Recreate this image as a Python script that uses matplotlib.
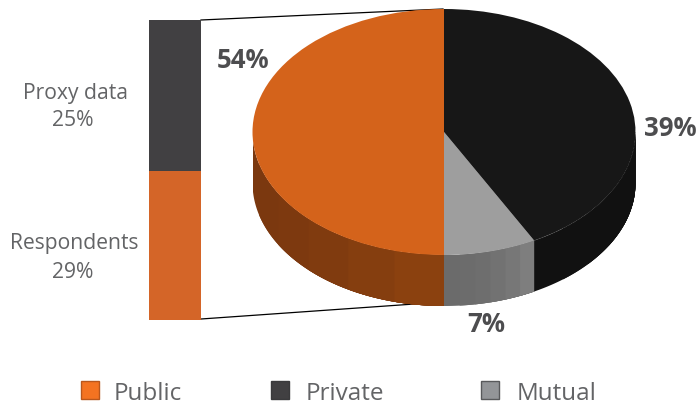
import numpy as np
import matplotlib
matplotlib.use('Agg')
import matplotlib.pyplot as plt
from matplotlib.patches import Rectangle

plt.rcParams['font.family'] = ['Open Sans', 'DejaVu Sans']

W, H = 696, 406

# slices as drawn (the pie is not to scale with its printed labels)
slice_names = ['Public', 'Mutual', 'Private']
slice_shares = [50.0, 7.8, 42.2]
slice_labels = ['54%', '7%', '39%']
top_colors = ['#d4631b', '#9e9e9e', '#171717']
side_left = ['#7a380f', '#6b6b6b', '#111111']
side_right = ['#8b410f', '#7e7e7e', '#111111']

# stacked bar, bottom to top, heights as drawn
bar_names = ['Respondents', 'Proxy data']
bar_heights = [26.8, 27.2]
bar_labels = ['29%', '25%']
bar_colors = ['#d46528', '#414042']

legend_names = ['Public', 'Private', 'Mutual']
legend_colors = ['#f47321', '#414042', '#939598']
legend_edges = ['#b9571c', '#3a3a3c', '#58595b']

TEXT = '#636466'
BOLD = '#4d4d4f'


def px_axes(fig, x0, y0, x1, y1):
    """axes placed by pixel box, y measured from the top of the image"""
    return fig.add_axes([x0 / W, 1 - y1 / H, (x1 - x0) / W, (y1 - y0) / H])


fig = plt.figure(figsize=(W / 100, H / 100), dpi=100)

# overlay in pixel coords for lines, text and legend
bg = px_axes(fig, 0, 0, W, H)
bg.set_xlim(0, W)
bg.set_ylim(H, 0)
bg.axis('off')
bg.plot([201, 443], [21, 10], color='black', lw=0.9, zorder=1)
bg.plot([201, 443], [320, 303], color='black', lw=0.9, zorder=1)

# stacked bar
bar_ax = px_axes(fig, 149, 21, 201, 321)
bar_ax.bar([0], [bar_heights[0]], width=1, color=bar_colors[0])
bar_ax.bar([0], [bar_heights[1]], width=1, bottom=bar_heights[0], color=bar_colors[1])
bar_ax.set_xlim(-0.5, 0.5)
bar_ax.set_ylim(0, sum(bar_heights))
bar_ax.axis('off')

# pie, squashed to an ellipse, with the depth added below it
RX, RY, DEPTH = 191.5, 123.0, 51.0
d = DEPTH / RY
pie_ax = px_axes(fig, 444 - RX, 10, 444 + RX, 256 + DEPTH)
pie_ax.patch.set_alpha(0)
wedges, _ = pie_ax.pie(slice_shares, colors=top_colors, startangle=90, counterclock=True,
                       radius=1, wedgeprops={'linewidth': 0, 'zorder': 3})
pie_ax.set_aspect('auto')
pie_ax.set_xlim(-1, 1)
pie_ax.set_ylim(-1 - d, 1)
pie_ax.axis('off')

start = 90.0
for share, c0, c1 in zip(slice_shares, side_left, side_right):
    end = start + share * 3.6
    a0, a1 = max(start, 180.0), min(end, 360.0)
    start = end
    if a1 <= a0:
        continue
    # side wall in bands, lighter toward the right; each band runs on to the
    # slice's far end so no seams show between them
    edges = np.linspace(a0, a1, 7)
    rgb0 = np.array(matplotlib.colors.to_rgb(c0))
    rgb1 = np.array(matplotlib.colors.to_rgb(c1))
    for i in range(6):
        t = np.radians(np.linspace(edges[i], a1, 80))
        xs = np.cos(t)
        ys = np.sin(t)
        pie_ax.fill(np.r_[xs, xs[::-1]], np.r_[ys, ys[::-1] - d],
                    color=rgb0 + (rgb1 - rgb0) * (i / 5) ** 2, lw=0, zorder=2)

# faint rim on the dark slice
t = np.radians(np.linspace(298, 360, 60))
pie_ax.plot(np.cos(t), np.sin(t), color='#4a4a4a', lw=0.4, ls=':', zorder=4)

# slice labels
bg.text(243, 60.5, slice_labels[0], ha='center', va='center', fontsize=18.5, fontweight='bold', color=BOLD)
bg.text(670.5, 129, slice_labels[2], ha='center', va='center', fontsize=18.5, fontweight='bold', color=BOLD)
bg.text(486.5, 324.5, slice_labels[1], ha='center', va='center', fontsize=18.5, fontweight='bold', color=BOLD)

# bar labels
bg.text(75.5, 93, bar_names[1], ha='center', va='center', fontsize=15.2, color=TEXT)
bg.text(73, 121, bar_labels[1], ha='center', va='center', fontsize=15.2, color=TEXT)
bg.text(74, 244, bar_names[0], ha='center', va='center', fontsize=15.2, color=TEXT)
bg.text(73, 273, bar_labels[0], ha='center', va='center', fontsize=15.2, color=TEXT)

# legend
legend_x = [81, 271, 481]
text_x = [114, 306, 517]
for name, col, edge, x, tx in zip(legend_names, legend_colors, legend_edges, legend_x, text_x):
    bg.add_patch(Rectangle((x, 382), 18, 18, facecolor=col, edgecolor=edge, lw=1))
    bg.text(tx, 394, name, ha='left', va='center', fontsize=17.5, color=TEXT)

fig.savefig('out.png', dpi=100)
